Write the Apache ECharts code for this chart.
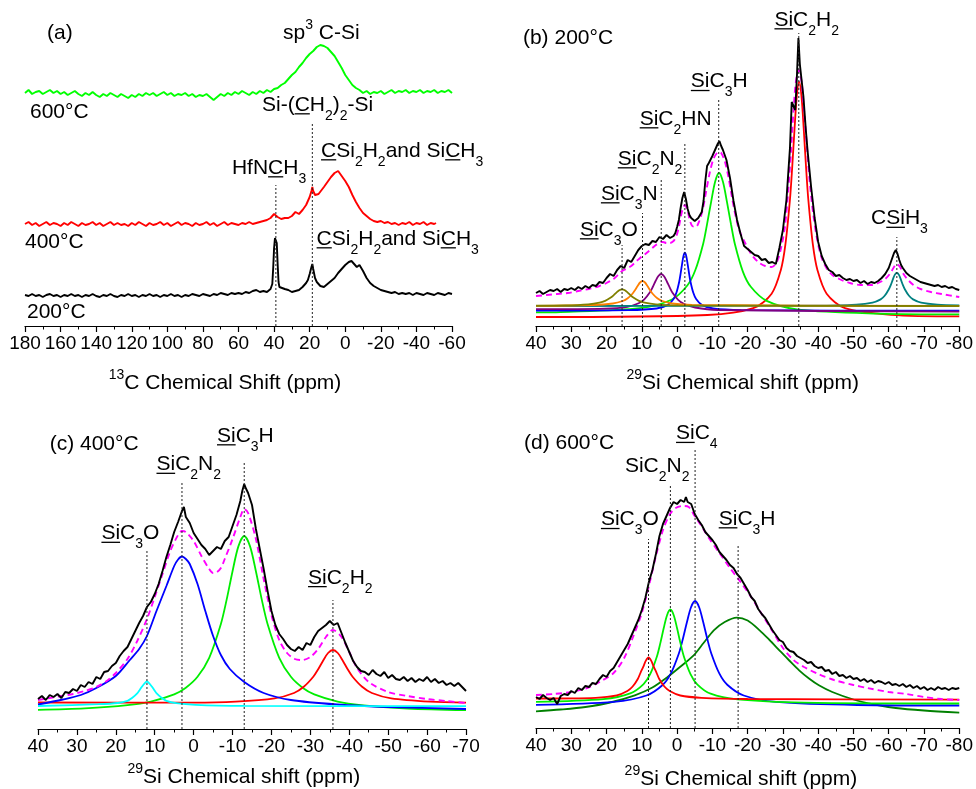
<!DOCTYPE html>
<html>
<head>
<meta charset="utf-8">
<script src="https://cdn.jsdelivr.net/npm/echarts@6.0.0/dist/echarts.min.js"></script>
<style>
  html, body { margin: 0; padding: 0; background: #fff; }
  #main { width: 976px; height: 789px; }
</style>
</head>
<body>
<div id="main"></div>
<script>
// ---------- (a) 13C spectra, [ppm, intensity] ----------
const c13_600 = [[180,233],[178,236],[176,232],[174,234],[172,235],[170,232],[168,234],[166,236],[164,233],[162,235],[160,232],[158,234],[156,231],[154,233],[152,235],[150,232],[148,230],[146,233],[144,231],[142,234],[140,231],[138,229],[136,232],[134,230],[132,233],[130,231],[128,229],[126,232],[124,230],[122,228],[120,231],[118,229],[116,232],[114,230],[112,233],[110,231],[108,233],[106,230],[104,232],[102,234],[100,231],[98,233],[96,230],[94,232],[92,231],[90,233],[88,230],[86,232],[84,229],[82,231],[80,230],[78,232],[76,229],[74,226],[72,229],[70,232],[68,230],[66,233],[64,231],[62,234],[60,232],[58,235],[56,233],[54,231],[52,234],[50,232],[48,235],[46,233],[44,236],[42,234],[40,237],[38,238],[36,241],[34,243],[32,247],[30,251],[28,254],[26,259],[24,263],[22,268],[20,272],[18,275],[16,279],[14,281],[13,283],[12,280],[10,278],[8,274],[6,270],[4,264],[2,258],[0,251],[-2,246],[-4,241],[-6,238],[-8,236],[-10,233],[-12,235],[-14,232],[-16,234],[-18,233],[-20,235],[-22,232],[-24,234],[-26,236],[-28,233],[-30,235],[-32,234],[-34,236],[-36,233],[-38,235],[-40,234],[-42,236],[-44,233],[-46,235],[-48,234],[-50,236],[-52,233],[-54,235],[-56,234],[-58,236],[-60,233]];

const c13_400 = [[180,102],[178,104],[176,101],[174,103],[172,100],[170,102],[168,104],[166,101],[164,103],[162,102],[160,100],[158,103],[156,101],[154,104],[152,102],[150,100],[148,103],[146,101],[144,102],[142,104],[140,101],[138,103],[136,100],[134,102],[132,104],[130,101],[128,103],[126,101],[124,102],[122,100],[120,103],[118,101],[116,104],[114,102],[112,100],[110,103],[108,101],[106,102],[104,104],[102,101],[100,103],[98,100],[96,102],[94,104],[92,101],[90,103],[88,102],[86,100],[84,103],[82,101],[80,102],[78,104],[76,101],[74,103],[72,100],[70,102],[68,104],[66,101],[64,103],[62,102],[60,101],[58,103],[56,102],[54,104],[52,102],[50,103],[48,104],[46,105],[44,106],[42,108],[41,110],[40,112],[39.5,113],[39,112],[38,109],[36,107],[34,108],[32,108],[30,110],[28,114],[26,112],[24,116],[22,121],[21,125],[20,129],[19,135],[18.5,139],[18,135],[17,131],[16,130],[15,132],[14,134],[12,139],[10,144],[8,149],[6,153],[5,155],[4,155],[3,153],[2,150],[1,148],[0,145],[-2,139],[-4,131],[-6,124],[-8,118],[-10,113],[-12,110],[-14,107],[-16,105],[-18,104],[-20,105],[-22,103],[-24,104],[-26,102],[-28,103],[-30,101],[-32,103],[-34,102],[-36,104],[-38,101],[-40,103],[-42,102],[-44,104],[-46,101],[-48,103],[-50,102],[-51,103]];

const c13_200 = [[180,31],[178,30],[176,32],[174,30],[172,31],[170,29],[168,31],[166,32],[164,30],[162,31],[160,29],[158,31],[156,30],[154,32],[152,30],[150,31],[148,29],[146,31],[144,30],[142,32],[140,30],[138,29],[136,31],[134,30],[132,32],[130,30],[128,29],[126,31],[124,30],[122,32],[120,30],[118,31],[116,29],[114,31],[112,30],[110,32],[108,30],[106,31],[104,29],[102,31],[100,30],[98,32],[96,30],[94,31],[92,29],[90,31],[88,30],[86,32],[84,31],[82,30],[80,32],[78,31],[76,30],[74,32],[72,31],[70,33],[68,32],[66,31],[64,33],[62,32],[60,33],[58,32],[56,34],[54,33],[52,35],[51,37],[50,36],[48,34],[46,35],[44,34],[42,37],[41,42],[40.5,58],[40,78],[39.5,88],[39,89],[38.5,83],[38,62],[37.5,44],[37,39],[36,38],[34,37],[32,36],[30,34],[28,35],[26,36],[24,39],[22,43],[21,46],[20,52],[19,59],[18.5,62],[18,57],[17,48],[16,44],[15,42],[14,40],[12,39],[10,42],[8,45],[6,48],[4,53],[2,57],[0,61],[-2,64],[-3.5,65],[-5,62],[-6.5,59],[-8,61],[-9,60],[-10,55],[-12,48],[-14,43],[-16,40],[-18,38],[-20,36],[-22,35],[-24,34],[-26,33],[-28,34],[-30,32],[-32,33],[-34,32],[-36,33],[-38,31],[-40,33],[-42,32],[-44,31],[-46,33],[-48,32],[-50,31],[-52,33],[-54,32],[-56,31],[-58,33],[-60,32]];

const c13MarkerPpm = [39, 18.5];
const c13MarkerTop = [141, 203];

// ---------- (b) 29Si, 200 °C ----------
const si200_exp = [[40,33],[39,35],[38,32],[37,34],[36,36],[35,35],[34,37],[33,34],[32,37],[31,36],[30,38],[29,36],[28,39],[27,37],[26,40],[25,38],[24,41],[23,40],[22,44],[21,43],[20,48],[19,52],[18,50],[17,56],[16,60],[15,58],[14,66],[13,64],[12,70],[11,76],[10,80],[9,82],[8,81],[7,85],[6,84],[5,89],[4,87],[3,91],[2,88],[1,90],[0.5,93],[0,99],[-0.5,106],[-1,118],[-1.5,128],[-2,134],[-2.5,127],[-3,117],[-3.5,111],[-4,108],[-5,105],[-6,108],[-6.5,110],[-7,114],[-7.5,125],[-8,145],[-8.5,160],[-9,163],[-10,170],[-11,178],[-11.5,182],[-12,185],[-12.5,180],[-13,176],[-14,166],[-15,148],[-16,125],[-17,106],[-18,92],[-19,80],[-20,77],[-21,74],[-22,71],[-23,70],[-24,66],[-25,67],[-26,63],[-27,64],[-28,62],[-28.5,70],[-29,78],[-30,96],[-31,126],[-32,178],[-32.5,224],[-33,222],[-33.5,216],[-34,252],[-34.4,288],[-34.8,262],[-35.2,249],[-35.8,230],[-36.5,196],[-37,175],[-38,139],[-39,108],[-40,84],[-41,70],[-42,62],[-43,56],[-44,54],[-45,50],[-46,51],[-47,48],[-48,46],[-49,47],[-50,45],[-51,46],[-52,43],[-53,45],[-54,42],[-55,44],[-56,43],[-57,45],[-58,48],[-59,52],[-60,58],[-60.5,63],[-61,68],[-61.5,73],[-62,76],[-62.5,72],[-63,66],[-63.5,61],[-64,58],[-65,53],[-66,50],[-67,48],[-68,46],[-69,44],[-70,43],[-71,42],[-72,41],[-73,40],[-74,41],[-75,39],[-76,40],[-77,38],[-78,39],[-79,37],[-80,36]];

const si200_fit = [[40,30],[37,31],[34,32],[31,33],[28,35],[25,37],[22,40],[20,43],[18,47],[16.5,52],[15.6,55],[14.5,57],[13,60],[11.5,65],[10.5,68],[9.8,70],[9,72],[8,75],[7,78],[6,81],[5,83],[4.5,84],[4,84],[3,83],[2,83],[1,85],[0.5,88],[0,92],[-0.5,99],[-1,108],[-1.5,116],[-2.2,121],[-3,115],[-3.6,106],[-4.3,100],[-5.3,99],[-6.3,105],[-7.3,117],[-8.3,136],[-9.3,154],[-10.3,167],[-11.3,173],[-11.9,174],[-12.5,173],[-13.5,165],[-14.5,150],[-15.6,128],[-16.6,110],[-17.6,96],[-19.3,83],[-21,72],[-23,64],[-25,60],[-26.8,59],[-28.3,64],[-29.6,80],[-30.6,100],[-31.5,135],[-32.3,175],[-33,215],[-33.7,245],[-34.5,256],[-35.3,244],[-36,215],[-36.8,180],[-37.6,144],[-38.6,112],[-39.8,85],[-41,68],[-42.5,57],[-44,51],[-46,47],[-49,43],[-52,41],[-55,41],[-57,43],[-59,47],[-60.5,53],[-61.5,59],[-62.3,62],[-63.2,59],[-64.2,52],[-65.5,46],[-67,41],[-69,37],[-72,34],[-75,32],[-80,29]];

const si200_SiC3O = [[40,20.3],[31.6,20.6],[25.2,21.7],[22,23.3],[20.4,25.1],[18.8,28.4],[18,30.7],[17.2,33.4],[16.4,35.7],[15.6,36.7],[14.8,35.7],[14,33.4],[13.2,30.7],[12.4,28.4],[10.8,25.1],[9.2,23.3],[6,21.7],[-0.4,20.6],[-80,20]];
const si200_SiC3N = [[40,20.2],[23.8,21],[18.2,22.5],[15.4,25],[14,27.7],[12.6,32.5],[11.9,36],[11.2,40],[10.5,43.5],[9.8,45],[9.1,43.5],[8.4,40],[7.7,36],[7,32.5],[5.6,27.7],[4.2,25],[1.4,22.5],[-4.2,21],[-80,20]];
const si200_SiC2N2 = [[40,16.8],[20.5,17.4],[14.1,19.2],[10.9,22.7],[9.3,26.7],[7.7,33.8],[6.9,39],[6.1,45],[5.3,50],[4.5,52],[3.7,49.8],[2.9,44.5],[2.1,38.6],[1.3,33.3],[-0.3,26.2],[-1.9,22.2],[-5.1,18.5],[-11.5,16],[-80,14.3]];
const si200_SiC2HN = [[40,15.4],[13.8,15.9],[5.8,17.5],[2.6,21.1],[1,27],[0.2,33.2],[-0.6,44.3],[-1,52.4],[-1.4,61.7],[-1.8,69.9],[-2.2,73.3],[-2.6,69.9],[-3,61.7],[-3.4,52.4],[-3.8,44.3],[-4.6,33.2],[-5.4,27],[-7,21.1],[-10.2,17.5],[-18.2,15.9],[-80,15.3]];
const si200_SiC3H = [[40,13.6],[33.1,13.9],[10.6,17.8],[1.6,26.3],[-2.9,40.5],[-5.15,55.7],[-7.4,82.3],[-8.5,101.9],[-9.65,124.2],[-10.8,144.5],[-11.9,153],[-13,144.2],[-14.15,123.8],[-15.3,101.5],[-16.4,81.7],[-18.65,54.4],[-20.9,39.2],[-25.4,25.1],[-34.4,16.4],[-56.9,12.4],[-80,11.6]];
const si200_SiC2H2 = [[40,9],[-8.6,11],[-21.6,17.8],[-26.8,32.3],[-29.4,55.8],[-30.7,81.3],[-32,126.5],[-32.65,159.5],[-33.3,197.2],[-33.95,230.4],[-34.6,244.3],[-35.25,230.4],[-35.9,197.2],[-36.55,159.5],[-37.2,126.5],[-38.5,81.3],[-39.8,55.8],[-42.4,32.3],[-47.6,17.8],[-60.6,11.2],[-80,9.6]];
const si200_CSiH3 = [[40,20],[-39.3,20.3],[-50.8,21.3],[-55.4,23.3],[-57.7,26.6],[-58.85,30.2],[-60,36.5],[-60.6,41.1],[-61.15,46.4],[-61.7,51.1],[-62.3,53],[-62.9,51.1],[-63.45,46.4],[-64,41.1],[-64.6,36.5],[-65.75,30.2],[-66.9,26.6],[-69.2,23.3],[-73.8,21.3],[-80,20.6]];

const si200MarkerPpm = [15.6, 9.8, 4.5, -2.2, -11.8, -34.5, -62.3];
const si200MarkerTop = [81, 113, 146, 183, 226, 293, 89];

// ---------- (c) 29Si, 400 °C ----------
const si400_exp = [[40,30],[39,33],[38,29],[37,34],[36,32],[35,35],[34,31],[33,37],[32,36],[31,40],[30,38],[29,44],[28,42],[27,47],[26,45],[25,52],[24,50],[23,57],[22,58],[21,63],[20,66],[19,73],[18,78],[17,82],[16,90],[15,98],[14,106],[13,113],[12,122],[11,127],[10,135],[9,145],[8,158],[7,172],[6,184],[5,197],[4,207],[3,218],[2.5,222],[2,212],[1,206],[0,196],[-1,190],[-2,184],[-3,180],[-4,174],[-5,178],[-6,182],[-7,180],[-8,188],[-9,192],[-10,203],[-11,214],[-12,228],[-12.5,238],[-13,245],[-13.5,240],[-14,236],[-15,224],[-16,200],[-17,180],[-18,160],[-19,138],[-20,118],[-21,104],[-22,95],[-23,90],[-24,84],[-25,80],[-26,78],[-27,82],[-28,79],[-29,86],[-30,84],[-31,92],[-32,98],[-33,101],[-34,104],[-35,108],[-36,104],[-37,106],[-38,96],[-39,86],[-40,77],[-41,68],[-42,62],[-43,58],[-44,57],[-45,54],[-46,59],[-47,55],[-48,53],[-49,57],[-50,51],[-51,54],[-52,50],[-53,49],[-54,52],[-55,48],[-56,51],[-57,47],[-58,50],[-59,48],[-60,52],[-61,47],[-62,50],[-63,46],[-64,48],[-65,44],[-66,46],[-67,43],[-68,46],[-69,42],[-70,38]];

const si400_fit = [[40,29],[37,31],[34,33],[31,35],[28,38],[25,42],[22,49],[20,56],[17,70],[14.5,88],[12,110],[10,132],[8,155],[6,178],[4,194],[3,198],[2,197],[0,188],[-2,173],[-4,160],[-5,156],[-6,157],[-7,161],[-8,170],[-10,190],[-12,212],[-13,220],[-14,216],[-16,190],[-18,150],[-20,114],[-22,89],[-24,76],[-26,70],[-28,69],[-30,72],[-32,80],[-34,92],[-35.8,99],[-38,92],[-40,77],[-42,61],[-45,47],[-50,37],[-55,33],[-60,30],[-65,28],[-70,26]];

const si400_SiC3O = [[40,23],[24.5,24.8],[19.5,26],[17,28.2],[15.75,31.2],[14.5,35.6],[13.9,38.8],[13.25,42.5],[12.6,45.7],[12,47.5],[11.4,45.7],[10.75,42.5],[10.1,38.8],[9.5,35.6],[8.25,31.2],[7,28.2],[4.5,25.9],[-0.5,24.2],[-13,23.2],[-70,22.8]];
const si400_SiC2N2 = [[40,24.5],[33.6,29.5],[29,34],[25,41],[20,53],[16.4,69],[14,80],[12,93],[9.55,118],[7,143],[5,163],[4,169.5],[3,172.5],[2,170],[1,165],[-1,145],[-3,118],[-5,93],[-7,74],[-9.3,60],[-13,47],[-18,36],[-25,29],[-37,24.5],[-50,22],[-70,20]];
const si400_SiC3H = [[40,19.2],[28,20.7],[17,23.8],[11,27.4],[5,34.6],[2,41.3],[-1,52.2],[-4,71.2],[-7,105],[-8.5,129.6],[-10,157.8],[-11.5,182.6],[-13,193],[-14.5,182.6],[-16,157.8],[-17.5,129.6],[-19,105],[-22,71.2],[-25,52.2],[-28,41.3],[-31,34.6],[-37,27.4],[-43,23.8],[-55,20.5],[-70,18.9]];
const si400_SiC2H2 = [[40,26.5],[0,26.3],[-10.8,27.3],[-20.8,30.6],[-25.8,36],[-28.3,42.2],[-30.8,52.5],[-32.05,60],[-33.3,68.5],[-34.55,76],[-35.8,79],[-37.05,76],[-38.3,68.5],[-39.55,60],[-40.8,52.5],[-43.3,42.2],[-45.8,36],[-50.8,30.6],[-60.8,27.3],[-70,26.3]];

const si400MarkerPpm = [12, 3, -13, -35.8];
const si400MarkerTop = [178, 246, 266, 129];

// ---------- (d) 29Si, 600 °C ----------
const si600_exp = [[40,31],[39,29],[38,33],[37,30],[36,28],[35,30],[34,24],[33,32],[32,34],[31,33],[30,37],[29,35],[28,40],[27,38],[26,42],[25,41],[24,45],[23,44],[22,49],[21,53],[20,51],[19,57],[18,60],[17,66],[16,72],[15,78],[14,84],[13,92],[12,100],[11,108],[10,118],[9,130],[8,146],[7,158],[6,174],[5,192],[4,204],[3,212],[2,220],[1,226],[0,224],[-1,228],[-2,226],[-2.5,231],[-3,226],[-4,224],[-5,214],[-6,208],[-7,203],[-8,196],[-9,192],[-10,188],[-11,183],[-12,176],[-13,172],[-14,168],[-15,163],[-16,160],[-17,154],[-18,150],[-19,144],[-20,138],[-21,131],[-22,127],[-23,119],[-24,114],[-25,110],[-26,104],[-27,98],[-28,93],[-29,88],[-30,86],[-31,80],[-32,77],[-33,76],[-34,72],[-35,70],[-36,68],[-37,65],[-38,66],[-39,62],[-40,60],[-41,61],[-42,57],[-43,58],[-44,54],[-45,56],[-46,52],[-47,53],[-48,50],[-49,52],[-50,49],[-51,50],[-52,47],[-53,49],[-54,46],[-55,48],[-56,45],[-57,47],[-58,46],[-59,44],[-60,46],[-61,43],[-62,44],[-63,42],[-64,44],[-65,41],[-66,43],[-67,40],[-68,42],[-69,39],[-70,41],[-71,38],[-72,40],[-73,38],[-74,41],[-75,39],[-76,40],[-77,38],[-78,40],[-79,39],[-80,40]];

const si600_fit = [[40,33],[35,34],[30,36],[25.5,40],[22,46],[18,55],[15,70],[12.5,91],[10,115],[7.8,145],[6,172],[4,198],[2,214],[0.4,220],[-1.5,222],[-3.3,221],[-5,212],[-7.1,201],[-9,190],[-12,175],[-15,160],[-18,146],[-21,131],[-24,114],[-27,97],[-30,80],[-33,68],[-36,61],[-40,54],[-44.5,48],[-50,43],[-54,40],[-60,36],[-65,34],[-70,31],[-75,29],[-80,28]];

const si600_SiC3O = [[40,29.5],[23.1,30.2],[17.1,32.6],[14.1,37],[12.6,41.5],[11.1,49.3],[10.35,55.4],[9.6,61.1],[8.85,67.4],[8.1,70.5],[7.35,67.4],[6.6,61.1],[5.85,55.4],[5.1,49.3],[3.6,41.5],[2.1,37],[-0.9,32.5],[-6.9,30.2],[-20,29],[-80,28.3]];
const si600_SiC2N2 = [[40,26.2],[20.9,28.9],[13.3,34.6],[9.5,43.9],[7.6,54.1],[5.7,71.8],[4.75,84.9],[3.8,99.7],[2.85,112.8],[1.9,118.5],[0.95,112.8],[0,99.7],[-0.95,84.9],[-1.9,71.8],[-3.8,53.9],[-5.7,43.7],[-9.5,34.3],[-17.1,28.6],[-36.1,25.4],[-80,24.5]];
const si600_SiC4 = [[40,23.1],[17.9,26.1],[8.7,32.5],[4.1,43],[1.8,54.3],[-0.5,74.5],[-1.65,89.2],[-2.8,106],[-3.95,120.8],[-5.1,127],[-6.25,120.8],[-7.4,106],[-8.55,89.2],[-9.7,74.5],[-12,54.3],[-14.3,43],[-18.9,32.5],[-28.1,26.1],[-51.1,23],[-80,22.5]];
const si600_SiC3H = [[40,16.7],[33,18.5],[26,21],[19,25.5],[12,32.7],[7,40.5],[2.7,51],[-1,61.5],[-4.7,72.7],[-7.5,85],[-10.4,97.7],[-13.5,106],[-16.9,110.4],[-20,107.5],[-23.4,97.7],[-26.2,88],[-29,77.7],[-31.8,67.5],[-34.6,57.7],[-37.4,49.5],[-40.2,42.7],[-44,36],[-50,28.5],[-56,23.5],[-62,20],[-70,17.5],[-80,15.3]];

const si600MarkerPpm = [8.1, 1.9, -5.1, -17.3];
const si600MarkerTop = [189, 242, 278, 184];

// ---------- drawing ----------
const FONT = '"Liberation Sans", Arial, Helvetica, sans-serif';
const LABEL_SIZE = 21;
const SMALL_SIZE = 14;
const EXP_W = 1.9;   // measured spectra
const FIT_W = 1.8;   // fitted components
const SUM_W = 1.9;   // total fit (dashed)

function xAxisFor(g, min, max, interval) {
  return {
    type: 'value', gridIndex: g, min: min, max: max, interval: interval, inverse: true,
    axisLine: { show: true, onZero: false, lineStyle: { color: '#000', width: 1.2 } },
    axisTick: { show: true, inside: false, length: 6, lineStyle: { color: '#000', width: 1.2 } },
    minorTick: { show: true, splitNumber: 2, length: 3.5, lineStyle: { color: '#000', width: 1 } },
    axisLabel: { color: '#000', fontSize: 19, fontFamily: FONT, margin: 8 },
    splitLine: { show: false },
    minorSplitLine: { show: false }
  };
}
function yAxisFor(g, max) {
  return { type: 'value', gridIndex: g, min: 0, max: max, show: false };
}
function curve(g, data, color, width, dash, smooth, z) {
  return {
    type: 'line', xAxisIndex: g, yAxisIndex: g, data: data,
    symbol: 'none', showSymbol: false, smooth: smooth || false,
    lineStyle: { color: color, width: width, type: dash || 'solid' },
    silent: true, z: z || 2
  };
}
function markers(g, xs, tops) {
  return xs.map(function (x, i) {
    return {
      type: 'line', xAxisIndex: g, yAxisIndex: g, data: [[x, 0], [x, tops[i]]],
      symbol: 'none', showSymbol: false,
      lineStyle: { color: '#222', width: 1, type: [2, 2] },
      silent: true, z: 6
    };
  });
}

const series = [].concat(
  [
    curve(0, c13_600, '#00ff00', EXP_W),
    curve(0, c13_400, '#ff0000', EXP_W),
    curve(0, c13_200, '#000000', EXP_W)
  ],
  markers(0, c13MarkerPpm, c13MarkerTop),
  [
    curve(1, si200_SiC2H2, '#ff0000', FIT_W, null, 0.3),
    curve(1, si200_SiC3H, '#00ee00', FIT_W, null, 0.3),
    curve(1, si200_SiC2HN, '#0000ff', FIT_W, null, 0.3),
    curve(1, si200_SiC2N2, '#800080', FIT_W, null, 0.3),
    curve(1, si200_CSiH3, '#008080', FIT_W, null, 0.3),
    curve(1, si200_SiC3N, '#ff8000', FIT_W, null, 0.3),
    curve(1, si200_SiC3O, '#808000', FIT_W, null, 0.3),
    curve(1, si200_fit, '#ff00ff', SUM_W, [6, 4], 0.3, 3),
    curve(1, si200_exp, '#000000', EXP_W, null, false, 4)
  ],
  markers(1, si200MarkerPpm, si200MarkerTop),
  [
    curve(2, si400_SiC3H, '#00ee00', FIT_W, null, 0.3),
    curve(2, si400_SiC2H2, '#ff0000', FIT_W, null, 0.3),
    curve(2, si400_SiC2N2, '#0000ff', FIT_W, null, 0.3),
    curve(2, si400_SiC3O, '#00ffff', FIT_W, null, 0.3),
    curve(2, si400_fit, '#ff00ff', SUM_W, [6, 4], 0.3, 3),
    curve(2, si400_exp, '#000000', EXP_W, null, false, 4)
  ],
  markers(2, si400MarkerPpm, si400MarkerTop),
  [
    curve(3, si600_SiC3H, '#008000', FIT_W, null, 0.3),
    curve(3, si600_SiC4, '#0000ff', FIT_W, null, 0.3),
    curve(3, si600_SiC2N2, '#00ee00', FIT_W, null, 0.3),
    curve(3, si600_SiC3O, '#ff0000', FIT_W, null, 0.3),
    curve(3, si600_fit, '#ff00ff', SUM_W, [6, 4], 0.3, 3),
    curve(3, si600_exp, '#000000', EXP_W, null, false, 4)
  ],
  markers(3, si600MarkerPpm, si600MarkerTop)
);

const chart = echarts.init(document.getElementById('main'), null, { renderer: 'canvas' });
chart.setOption({
  animation: false,
  backgroundColor: '#ffffff',
  textStyle: { fontFamily: FONT },
  grid: [
    { left: 25, right: 524, top: 20, height: 306 },
    { left: 536, right: 12, top: 26, height: 300 },
    { left: 38, right: 510, top: 429, height: 300 },
    { left: 536, right: 11, top: 428, height: 300 }
  ],
  xAxis: [
    xAxisFor(0, -60, 180, 20),
    xAxisFor(1, -80, 40, 10),
    xAxisFor(2, -70, 40, 10),
    xAxisFor(3, -80, 40, 10)
  ],
  yAxis: [yAxisFor(0, 306), yAxisFor(1, 300), yAxisFor(2, 300), yAxisFor(3, 300)],
  series: series
});

// ---------- annotations: formula labels with sub/superscripts and underlines ----------
const CSI_PARTS = [['C', 'u'], ['Si', ''], ['2', 'sub'], ['H', ''], ['2', 'sub'], ['and Si', ''], ['C', 'u'], ['H', ''], ['3', 'sub']];
const TITLE_C = [['13', 'sup'], ['C Chemical Shift (ppm)', '']];
const TITLE_SI = [['29', 'sup'], ['Si Chemical shift (ppm)', '']];
const uSi = function (rest) { return [['Si', 'u']].concat(rest); };

const labels = [
  { g: 0, x: 167.6, y: 293, parts: [['(a)', '']] },
  { g: 0, x: 35.0, y: 293, parts: [['sp', ''], ['3', 'sup'], [' C-Si', '']] },
  { g: 0, x: 177.2, y: 214, parts: [['600°C', '']] },
  { g: 0, x: 46.8, y: 221, parts: [['Si-(', ''], ['C', 'u'], ['H', ''], ['2', 'sub'], [')', ''], ['2', 'sub'], ['-Si', '']] },
  { g: 0, x: 63.7, y: 158, parts: [['HfN', ''], ['C', 'u'], ['H', ''], ['3', 'sub']] },
  { g: 0, x: 13.6, y: 175, parts: CSI_PARTS },
  { g: 0, x: 180, y: 84, parts: [['400°C', '']] },
  { g: 0, x: 16.1, y: 87, parts: CSI_PARTS },
  { g: 0, x: 178.9, y: 14, parts: [['200°C', '']] },
  { g: 0, x: 67.6, y: -57, center: true, parts: TITLE_C },

  { g: 1, x: 43.7, y: 288, parts: [['(b) 200°C', '']] },
  { g: 1, x: 27.55, y: 96, parts: uSi([['C', ''], ['3', 'sub'], ['O', '']]) },
  { g: 1, x: 21.6, y: 132, parts: uSi([['C', ''], ['3', 'sub'], ['N', '']]) },
  { g: 1, x: 16.8, y: 167, parts: uSi([['C', ''], ['2', 'sub'], ['N', ''], ['2', 'sub']]) },
  { g: 1, x: 10.6, y: 207, parts: uSi([['C', ''], ['2', 'sub'], ['HN', '']]) },
  { g: 1, x: -3.9, y: 244.3, parts: uSi([['C', ''], ['3', 'sub'], ['H', '']]) },
  { g: 1, x: -27.6, y: 306, parts: uSi([['C', ''], ['2', 'sub'], ['H', ''], ['2', 'sub']]) },
  { g: 1, x: -55, y: 107.5, parts: [['C', ''], ['Si', 'u'], ['H', ''], ['3', 'sub']] },
  { g: 1, x: -18.6, y: -57, center: true, parts: TITLE_SI },

  { g: 2, x: 37.0, y: 284.3, parts: [['(c) 400°C', '']] },
  { g: 2, x: 23.7, y: 195.5, parts: uSi([['C', ''], ['3', 'sub'], ['O', '']]) },
  { g: 2, x: 9.55, y: 264.5, parts: uSi([['C', ''], ['2', 'sub'], ['N', ''], ['2', 'sub']]) },
  { g: 2, x: -6.0, y: 293, parts: uSi([['C', ''], ['3', 'sub'], ['H', '']]) },
  { g: 2, x: -29.4, y: 151.2, parts: uSi([['C', ''], ['2', 'sub'], ['H', ''], ['2', 'sub']]) },
  { g: 2, x: -12.9, y: -48.2, center: true, parts: TITLE_SI },

  { g: 3, x: 43.4, y: 284.4, parts: [['(d) 600°C', '']] },
  { g: 3, x: 0.3, y: 294.4, parts: uSi([['C', ''], ['4', 'sub']]) },
  { g: 3, x: 14.8, y: 261.7, parts: [['SiC', ''], ['2', 'sub'], ['N', ''], ['2', 'sub']] },
  { g: 3, x: 21.6, y: 208.3, parts: uSi([['C', ''], ['3', 'sub'], ['O', '']]) },
  { g: 3, x: -11.8, y: 209, parts: uSi([['C', ''], ['3', 'sub'], ['H', '']]) },
  { g: 3, x: -18.1, y: -50.8, center: true, parts: TITLE_SI }
];

const measureCtx = document.createElement('canvas').getContext('2d');
function textWidth(text, size) {
  measureCtx.font = size + 'px ' + FONT;
  return measureCtx.measureText(text).width;
}

function buildLabel(lab) {
  const p = chart.convertToPixel({ xAxisIndex: lab.g, yAxisIndex: lab.g }, [lab.x, lab.y]);
  const pieces = lab.parts.map(function (part) {
    const small = part[1] === 'sub' || part[1] === 'sup';
    const size = small ? SMALL_SIZE : LABEL_SIZE;
    return { text: part[0], kind: part[1], size: size, w: textWidth(part[0], size) };
  });
  const total = pieces.reduce(function (s, q) { return s + q.w; }, 0);
  let x = lab.center ? p[0] - total / 2 : p[0];
  const out = [];
  pieces.forEach(function (q) {
    let dy = 0;
    if (q.kind === 'sub') dy = 0.52 * LABEL_SIZE;
    if (q.kind === 'sup') dy = -0.37 * LABEL_SIZE;
    out.push({
      type: 'text', x: x, y: p[1] + dy, z: 100, silent: true,
      style: {
        text: q.text, font: q.size + 'px ' + FONT, fill: '#000',
        align: 'left', verticalAlign: 'middle',
        textAlign: 'left', textVerticalAlign: 'middle'
      }
    });
    if (q.kind === 'u') {
      const uy = p[1] + 0.42 * LABEL_SIZE;
      out.push({
        type: 'line', z: 100, silent: true,
        shape: { x1: x, y1: uy, x2: x + q.w, y2: uy },
        style: { stroke: '#000', lineWidth: 1.3 }
      });
    }
    x += q.w;
  });
  return out;
}

let elements = [];
labels.forEach(function (lab) { elements = elements.concat(buildLabel(lab)); });
chart.setOption({ graphic: { elements: elements } });
</script>
</body>
</html>
